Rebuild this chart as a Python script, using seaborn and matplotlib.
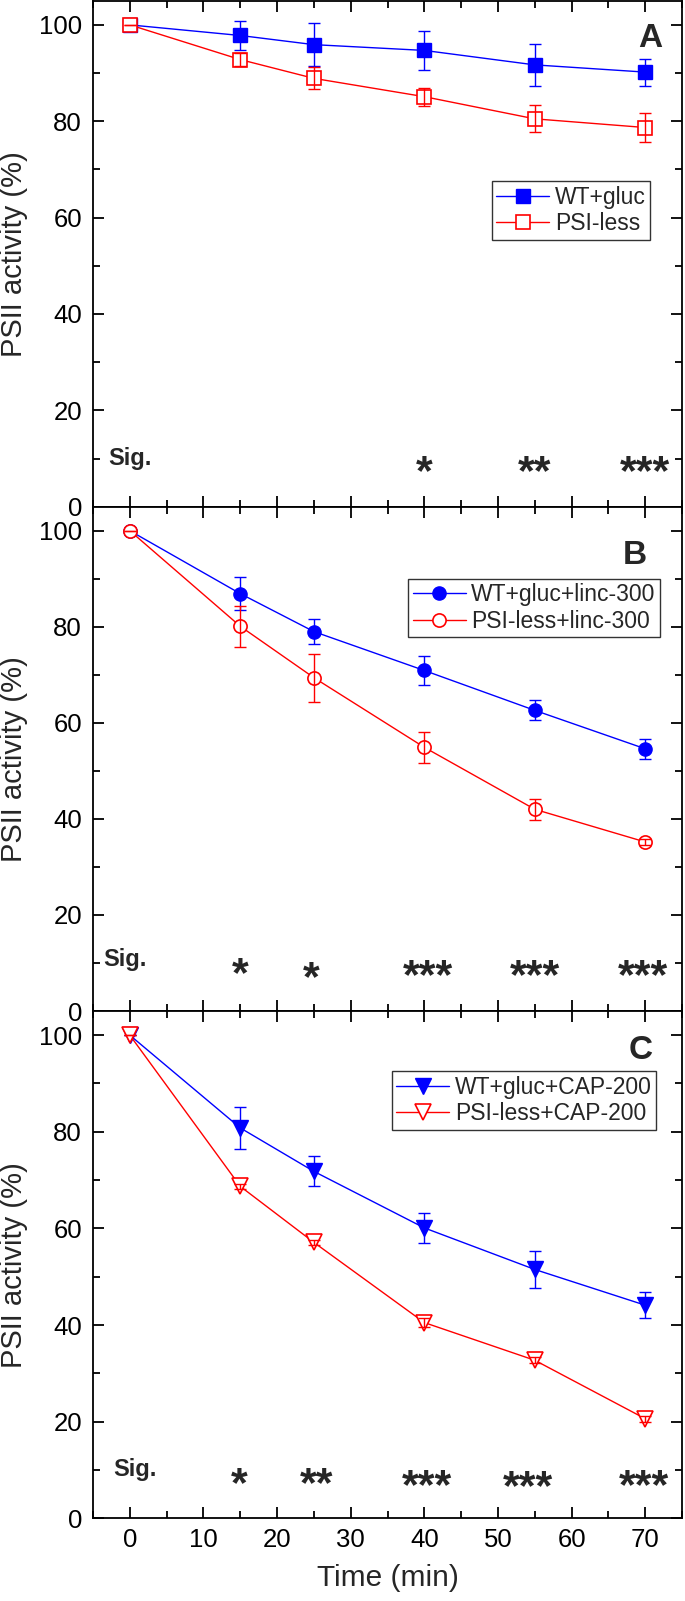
import numpy as np
import pandas as pd
import matplotlib

matplotlib.use("Agg")
import matplotlib.pyplot as plt
import seaborn as sns
from matplotlib.ticker import MultipleLocator

time_min = [0, 15, 25, 40, 55, 70]

# panel A
a_wt = [100, 97.8, 95.9, 94.7, 91.7, 90.2]
a_wt_err = [0, 3.0, 4.4, 4.0, 4.3, 2.8]
a_psi = [100, 92.8, 88.9, 85.1, 80.5, 78.7]
a_psi_err = [0, 1.3, 2.3, 1.9, 2.8, 3.1]

# panel B
b_wt = [100, 86.9, 79.0, 70.9, 62.6, 54.6]
b_wt_err = [0, 3.4, 2.6, 3.0, 2.1, 2.1]
b_psi = [100, 80.1, 69.4, 54.9, 42.0, 35.2]
b_psi_err = [0, 4.3, 5.0, 3.2, 2.2, 0.6]

# panel C
c_wt = [100, 80.8, 71.8, 60.1, 51.5, 44.1]
c_wt_err = [0, 4.3, 3.1, 3.1, 3.8, 2.7]
c_psi = [100, 68.7, 57.1, 40.5, 32.7, 20.6]
c_psi_err = [0, 0.5, 0.5, 1.0, 0.6, 0.6]

labels_a = ["WT+gluc", "PSI-less"]
labels_b = ["WT+gluc+linc-300", "PSI-less+linc-300"]
labels_c = ["WT+gluc+CAP-200", "PSI-less+CAP-200"]

# significance marks (x, y, text)
sig_a_x = [40, 55, 70]
sig_a_y = [10, 10, 10]
sig_a_txt = ["*", "**", "***"]
sig_b_x = [15, 24.7, 40.5, 55, 69.7]
sig_b_y = [10.5, 9.6, 10, 10, 10]
sig_b_txt = ["*", "*", "***", "***", "***"]
sig_c_x = [14.8, 25.4, 40.3, 54.1, 69.8]
sig_c_y = [9.8, 9.9, 9.5, 9.3, 9.4]
sig_c_txt = ["*", "**", "***", "***", "***"]

BLUE = "#0000FF"
RED = "#FF0000"

sns.set_style("ticks")
plt.rcParams["font.family"] = ["Liberation Sans", "DejaVu Sans"]
plt.rcParams["axes.linewidth"] = 1.3


def draw_panel(ax, wt, wt_err, psi, psi_err, marker, msize, labels, letter,
               letter_pos, leg_anchor, sig_x, sig_y, sig_txt, sig_label_pos):
    df = pd.DataFrame({"time": time_min, "wt": wt, "psi": psi})
    sns.lineplot(data=df, x="time", y="wt", ax=ax, color=BLUE, lw=1.0,
                 marker=marker, markersize=msize, markerfacecolor=BLUE,
                 markeredgecolor=BLUE, markeredgewidth=1.0, label=labels[0])
    ax.errorbar(time_min, wt, yerr=wt_err, fmt="none", ecolor=BLUE,
                elinewidth=1.0, capsize=4, capthick=1.0)
    sns.lineplot(data=df, x="time", y="psi", ax=ax, color=RED, lw=1.0,
                 marker=marker, markersize=msize, markerfacecolor="white",
                 markeredgecolor=RED, markeredgewidth=1.2, label=labels[1])
    ax.errorbar(time_min, psi, yerr=psi_err, fmt="none", ecolor=RED,
                elinewidth=1.0, capsize=4, capthick=1.0)

    ax.set_xlim(-5, 75)
    ax.set_ylim(0, 105)
    ax.xaxis.set_major_locator(MultipleLocator(10))
    ax.xaxis.set_minor_locator(MultipleLocator(5))
    ax.yaxis.set_major_locator(MultipleLocator(20))
    ax.yaxis.set_minor_locator(MultipleLocator(10))
    ax.tick_params(which="both", direction="in", top=True, right=True,
                   width=1.3, labelsize=18.5, colors="black")
    ax.tick_params(which="major", length=8)
    ax.tick_params(which="minor", length=5)
    ax.tick_params(axis="y", pad=8)
    ax.tick_params(axis="x", pad=7)
    for sp in ax.spines.values():
        sp.set_color("black")
        sp.set_linewidth(1.3)

    ax.set_ylabel("PSII activity (%)", fontsize=21)
    ax.yaxis.set_label_coords(-0.11, 0.5)
    ax.set_xlabel("")

    ax.text(letter_pos[0], letter_pos[1], letter, transform=ax.transAxes,
            ha="center", va="top", fontsize=24, fontweight="bold")

    leg = ax.legend(loc="upper right", bbox_to_anchor=leg_anchor,
                    bbox_transform=ax.transAxes, borderaxespad=0,
                    fontsize=16.5, frameon=True, fancybox=False,
                    edgecolor="black", handlelength=2.3, handletextpad=0.25,
                    borderpad=0.2, labelspacing=0.15)
    leg.get_frame().set_linewidth(1.0)

    ax.text(sig_label_pos[0], sig_label_pos[1], "Sig.", ha="center",
            va="center", fontsize=17, fontweight="bold")
    for x, y, s in zip(sig_x, sig_y, sig_txt):
        ax.annotate(s, (x, y), xytext=(0, -10.5), textcoords="offset points",
                    ha="center", va="center", fontsize=31, fontweight="bold")


fig = plt.figure(figsize=(6.85, 16.01), dpi=100)
left, width = 0.1358, 0.8599
ax_a = fig.add_axes([left, 0.6835, width, 0.3160])
ax_b = fig.add_axes([left, 0.3685, width, 0.3150])
ax_c = fig.add_axes([left, 0.0517, width, 0.3168])

draw_panel(ax_a, a_wt, a_wt_err, a_psi, a_psi_err, "s", 9.5, labels_a, "A",
           (0.946, 0.957), (0.946, 0.643), sig_a_x, sig_a_y, sig_a_txt, (0, 10))
draw_panel(ax_b, b_wt, b_wt_err, b_psi, b_psi_err, "o", 9.5, labels_b, "B",
           (0.92, 0.934), (0.963, 0.857), sig_b_x, sig_b_y, sig_b_txt, (-0.7, 10.7))
draw_panel(ax_c, c_wt, c_wt_err, c_psi, c_psi_err, "v", 11.5, labels_c, "C",
           (0.93, 0.952), (0.956, 0.881), sig_c_x, sig_c_y, sig_c_txt, (0.7, 10.1))

ax_a.tick_params(axis="x", labelbottom=False)
ax_b.tick_params(axis="x", labelbottom=False)
ax_c.set_xlabel("Time (min)", fontsize=21.5, labelpad=9)

fig.savefig("out.png", dpi=100)
plt.close(fig)
